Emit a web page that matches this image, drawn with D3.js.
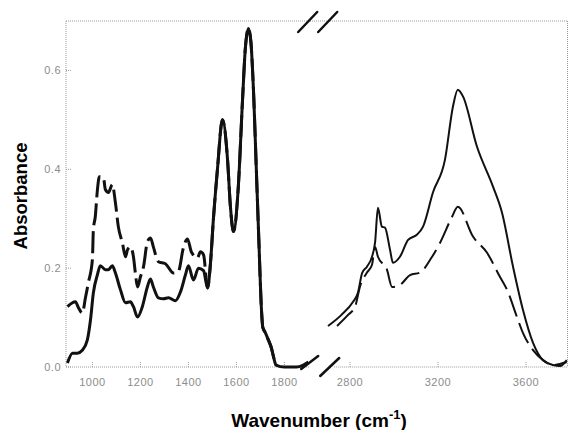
<!DOCTYPE html>
<html>
<head>
<meta charset="utf-8">
<script src="https://cdn.jsdelivr.net/npm/d3@7"></script>
<style>
  body { margin: 0; background: #fff; }
  svg { display: block; }
</style>
</head>
<body>
<div id="chart"></div>
<script>
// left panel (fingerprint region), solid spectrum
var solidLeftX = [896, 917, 937, 958, 979, 992, 1004, 1021, 1033, 1054, 1067, 1083, 1096, 1117, 1138, 1158, 1171, 1188, 1208, 1229, 1242, 1254, 1275, 1296, 1317, 1346, 1367, 1388, 1400, 1421, 1442, 1463, 1480, 1492, 1504, 1521, 1542, 1563, 1575, 1588, 1608, 1625, 1637, 1650, 1660, 1672, 1683, 1694, 1704, 1710, 1720, 1733, 1745, 1755, 1765, 1800, 1850, 1879, 1900];
var solidLeftY = [0.008, 0.028, 0.028, 0.034, 0.055, 0.095, 0.150, 0.187, 0.205, 0.197, 0.197, 0.205, 0.190, 0.156, 0.130, 0.132, 0.122, 0.101, 0.122, 0.162, 0.178, 0.162, 0.140, 0.138, 0.140, 0.134, 0.152, 0.187, 0.205, 0.176, 0.200, 0.195, 0.160, 0.210, 0.298, 0.400, 0.500, 0.420, 0.325, 0.274, 0.365, 0.535, 0.643, 0.685, 0.660, 0.550, 0.400, 0.250, 0.120, 0.080, 0.070, 0.055, 0.040, 0.020, 0.004, 0.000, 0.000, 0.004, 0.010];

// left panel, dashed spectrum
var dashedLeftX = [896, 917, 929, 942, 958, 971, 983, 1000, 1004, 1012, 1021, 1029, 1046, 1054, 1067, 1083, 1096, 1108, 1125, 1138, 1146, 1158, 1171, 1179, 1188, 1200, 1213, 1229, 1242, 1254, 1275, 1304, 1338, 1358, 1379, 1396, 1413, 1438, 1450, 1463, 1480, 1492, 1504, 1521, 1542, 1563, 1575, 1588, 1608, 1625, 1637, 1650, 1660, 1672, 1683, 1694, 1704, 1710, 1720, 1733, 1745, 1755, 1765];
var dashedLeftY = [0.122, 0.130, 0.132, 0.120, 0.109, 0.140, 0.170, 0.217, 0.278, 0.304, 0.359, 0.385, 0.383, 0.359, 0.353, 0.369, 0.332, 0.284, 0.251, 0.223, 0.237, 0.243, 0.223, 0.190, 0.162, 0.182, 0.203, 0.253, 0.261, 0.243, 0.213, 0.209, 0.190, 0.193, 0.241, 0.259, 0.232, 0.221, 0.233, 0.227, 0.160, 0.210, 0.298, 0.400, 0.500, 0.420, 0.325, 0.274, 0.365, 0.535, 0.643, 0.685, 0.660, 0.550, 0.400, 0.250, 0.120, 0.080, 0.070, 0.055, 0.040, 0.020, 0.004];

// right panel (C-H / O-H stretch region), solid spectrum
var solidRightX = [2700, 2760, 2814, 2836, 2855, 2877, 2900, 2914, 2927, 2945, 2959, 2982, 2995, 3027, 3064, 3105, 3132, 3177, 3232, 3268, 3290, 3314, 3377, 3450, 3491, 3541, 3586, 3632, 3677, 3723, 3755, 3785];
var solidRightY = [0.083, 0.105, 0.132, 0.150, 0.190, 0.203, 0.223, 0.252, 0.322, 0.284, 0.282, 0.237, 0.211, 0.223, 0.257, 0.268, 0.284, 0.353, 0.420, 0.527, 0.561, 0.547, 0.446, 0.365, 0.312, 0.203, 0.116, 0.049, 0.014, 0.004, 0.002, 0.014];

// right panel, dashed spectrum
var dashedRightX = [2741, 2790, 2823, 2845, 2877, 2900, 2914, 2927, 2968, 2991, 3027, 3073, 3118, 3173, 3209, 3264, 3290, 3359, 3423, 3482, 3514, 3559, 3586, 3632, 3677, 3723, 3785];
var dashedRightY = [0.083, 0.105, 0.122, 0.162, 0.191, 0.207, 0.243, 0.223, 0.197, 0.162, 0.166, 0.186, 0.191, 0.223, 0.251, 0.304, 0.324, 0.264, 0.231, 0.182, 0.156, 0.101, 0.069, 0.034, 0.014, 0.004, 0.010];

var leftTicks = [1000, 1200, 1400, 1600, 1800];
var rightTicks = [2800, 3200, 3600];
var yTicks = [0.0, 0.2, 0.4, 0.6];

var width = 568, height = 430;

var svg = d3.select("#chart").append("svg")
  .attr("width", width)
  .attr("height", height);

// broken x axis: two linear scales side by side
var xLeft = d3.scaleLinear().domain([890, 1900]).range([66, 308.4]);
var xRight = d3.scaleLinear().domain([2700, 3790]).range([328, 567.8]);
var y = d3.scaleLinear().domain([0, 0.7]).range([367, 21]);

var frameColor = "#9a9a9a";
var gapMid = (xLeft.range()[1] + xRight.range()[0]) / 2;

// dotted frame
function dotted(x1, y1, x2, y2) {
  svg.append("line")
    .attr("x1", x1).attr("y1", y1).attr("x2", x2).attr("y2", y2)
    .attr("stroke", frameColor)
    .attr("stroke-width", 1)
    .attr("stroke-dasharray", "1,1");
}
dotted(66, 21, 567.5, 21);                       // top
dotted(66, 21, 66, 367);                         // left
dotted(567.5, 21, 567.5, 367);                   // right
dotted(66, 367, gapMid - 8, 367);                // bottom, left part
dotted(gapMid + 16, 367, 567.5, 367);            // bottom, right part

// tick marks and labels
var tickFont = "'Liberation Sans', Arial, sans-serif";

function xTicks(scale, ticks) {
  ticks.forEach(function(t) {
    svg.append("line")
      .attr("x1", scale(t)).attr("x2", scale(t))
      .attr("y1", 367).attr("y2", 362)
      .attr("stroke", frameColor)
      .attr("stroke-dasharray", "1,1");
    svg.append("text")
      .attr("x", scale(t))
      .attr("y", 386)
      .attr("text-anchor", "middle")
      .attr("font-family", tickFont)
      .attr("font-size", 11)
      .attr("letter-spacing", 0.5)
      .attr("fill", "#8c8c8c")
      .text(t);
  });
}
xTicks(xLeft, leftTicks);
xTicks(xRight, rightTicks);

yTicks.forEach(function(t) {
  svg.append("line")
    .attr("x1", 66).attr("x2", 71)
    .attr("y1", y(t)).attr("y2", y(t))
    .attr("stroke", frameColor)
    .attr("stroke-dasharray", "1,1");
  svg.append("text")
    .attr("x", 61)
    .attr("y", y(t) + 4)
    .attr("text-anchor", "end")
    .attr("font-family", tickFont)
    .attr("font-size", 11)
    .attr("letter-spacing", 0.5)
    .attr("fill", "#8c8c8c")
    .text(t.toFixed(1));
});

// spectra
function zip(xs, ys) {
  return xs.map(function(d, i) { return [d, ys[i]]; });
}

function drawLine(scale, xs, ys, w, dash) {
  var line = d3.line()
    .x(function(d) { return scale(d[0]); })
    .y(function(d) { return y(d[1]); })
    .curve(d3.curveMonotoneX);
  svg.append("path")
    .datum(zip(xs, ys))
    .attr("d", line)
    .attr("fill", "none")
    .attr("stroke", "#111")
    .attr("stroke-width", w)
    .attr("stroke-linejoin", "round")
    .attr("stroke-dasharray", dash || null);
}

drawLine(xLeft, dashedLeftX, dashedLeftY, 3, "22,6");
drawLine(xLeft, solidLeftX, solidLeftY, 3);
drawLine(xRight, dashedRightX, dashedRightY, 2, "22,7");
drawLine(xRight, solidRightX, solidRightY, 2);

// axis break marks
function slash(x1, y1, x2, y2) {
  svg.append("line")
    .attr("x1", x1).attr("y1", y1).attr("x2", x2).attr("y2", y2)
    .attr("stroke", "#111")
    .attr("stroke-width", 2.5)
    .attr("stroke-linecap", "round");
}
slash(gapMid - 20, 32, gapMid - 1, 12);
slash(gapMid, 32, gapMid + 19, 12);
slash(gapMid - 17, 369, gapMid, 356);
slash(gapMid + 2, 376, gapMid + 21, 358);

// axis titles
svg.append("text")
  .attr("transform", "translate(27,196) rotate(-90)")
  .attr("text-anchor", "middle")
  .attr("font-family", tickFont)
  .attr("font-weight", "bold")
  .attr("font-size", 18.5)
  .attr("fill", "#000")
  .text("Absorbance");

var xTitle = svg.append("text")
  .attr("x", 319)
  .attr("y", 427)
  .attr("text-anchor", "middle")
  .attr("font-family", tickFont)
  .attr("font-weight", "bold")
  .attr("font-size", 19)
  .attr("fill", "#000");
xTitle.append("tspan").text("Wavenumber (cm");
xTitle.append("tspan").attr("dy", -8).attr("font-size", 13).text("-1");
xTitle.append("tspan").attr("dy", 8).text(")");
</script>
</body>
</html>
